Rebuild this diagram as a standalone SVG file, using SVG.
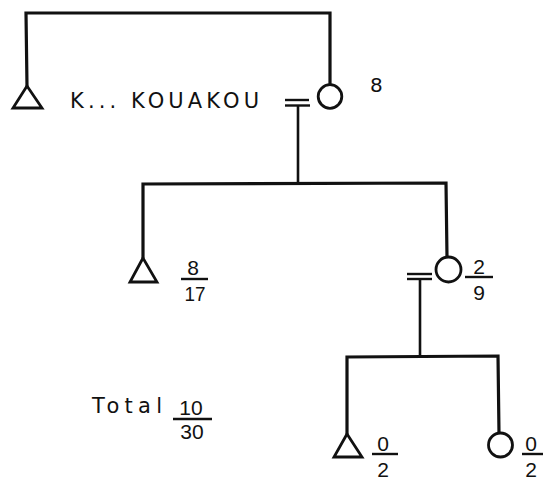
<svg xmlns="http://www.w3.org/2000/svg" width="543" height="480" viewBox="0 0 543 480">
<style>
.ln{stroke:#111;stroke-width:3.2;fill:none;stroke-linecap:square;stroke-linejoin:miter}
.thin{stroke:#111;stroke-width:2.6;fill:none}
.sym{stroke:#111;stroke-width:2.8;fill:#fff}
.t{font-family:"DejaVu Sans","Liberation Sans",sans-serif;fill:#111}
.fr{font-family:"Liberation Sans","DejaVu Sans",sans-serif;fill:#111;font-size:21px;text-anchor:middle}
.bar{stroke:#111;stroke-width:2.4}
</style>
<rect width="543" height="480" fill="#fff"/>
<g id="connectors">
<polyline class="ln" points="27,86 26,13 330,13 330,85"/>
<line class="bar" x1="285" y1="100" x2="309" y2="100"/>
<line class="bar" x1="285" y1="105.5" x2="310" y2="105.5"/>
<line class="thin" x1="298" y1="106" x2="298" y2="182"/>
<polyline class="ln" points="143,257 143,184 446,183 447,257"/>
<line class="bar" x1="407" y1="274" x2="432" y2="274"/>
<line class="bar" x1="407" y1="279" x2="432" y2="279"/>
<line class="thin" x1="420" y1="280" x2="420" y2="355"/>
<polyline class="ln" points="347,433 347,357 498,356 499,433"/>
</g>
<g id="n1"><polygon class="sym" points="27,86 13,108 42,108"/></g>
<g id="n2"><circle class="sym" cx="330" cy="96.5" r="11.8"/><text class="t" x="370" y="92" font-size="20">8</text></g>
<g id="label"><text class="t" x="70" y="108" font-size="21" textLength="189" lengthAdjust="spacing">K... KOUAKOU</text></g>
<g id="n3"><polygon class="sym" points="143,258 130,282 157,282"/>
<text class="fr" x="193" y="275">8</text><line class="bar" x1="181" y1="279" x2="208" y2="279"/><text class="fr" x="195" y="301" textLength="21" lengthAdjust="spacingAndGlyphs">17</text></g>
<g id="n4"><circle class="sym" cx="448.5" cy="269.5" r="12.5"/>
<text class="fr" x="479" y="274">2</text><line class="bar" x1="465" y1="277" x2="493" y2="277"/><text class="fr" x="479" y="300">9</text></g>
<g id="n5"><polygon class="sym" points="347,434 334,457 362,457"/>
<text class="fr" x="383" y="451">0</text><line class="bar" x1="372" y1="454" x2="398" y2="454"/><text class="fr" x="383" y="477">2</text></g>
<g id="n6"><circle class="sym" cx="500.5" cy="445" r="12"/>
<text class="fr" x="531" y="451">0</text><line class="bar" x1="522" y1="454" x2="543" y2="454"/><text class="fr" x="531" y="477">2</text></g>
<g id="total"><text class="t" x="92" y="413" font-size="21" textLength="70" lengthAdjust="spacing">Total</text>
<text class="fr" x="191" y="415">10</text><line class="bar" x1="173" y1="419" x2="212" y2="419"/><text class="fr" x="192" y="439">30</text></g>
</svg>
